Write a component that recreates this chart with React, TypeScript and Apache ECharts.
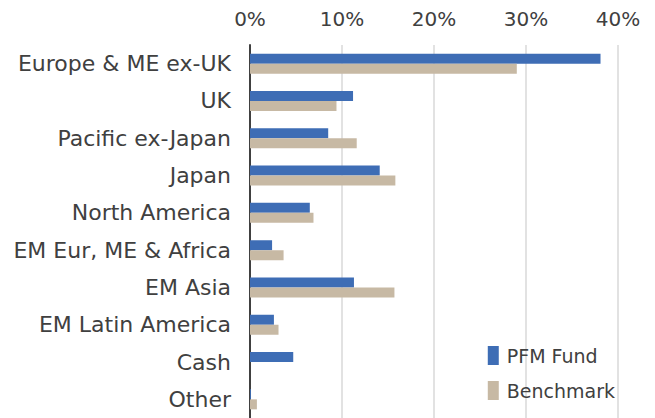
import React, { useEffect, useRef } from "react";
import * as echarts from "echarts";

const categories = [
  "Europe & ME ex-UK",
  "UK",
  "Pacific ex-Japan",
  "Japan",
  "North America",
  "EM Eur, ME & Africa",
  "EM Asia",
  "EM Latin America",
  "Cash",
  "Other",
];
const pfmFund = [38.1, 11.2, 8.5, 14.1, 6.5, 2.4, 11.3, 2.6, 4.7, 0.1];
const benchmark = [29.0, 9.4, 11.6, 15.8, 6.9, 3.65, 15.7, 3.1, 0, 0.75];
const seriesNames = ["PFM Fund", "Benchmark"];

const FONT = "'DejaVu Sans', Verdana, sans-serif";
const TEXT = "#404040";

export default function App() {
  const ref = useRef<HTMLDivElement>(null);
  useEffect(() => {
    if (!ref.current) return;
    const chart = echarts.init(ref.current, undefined, { renderer: "svg" });
    chart.setOption({
      animation: false,
      textStyle: { fontFamily: FONT },
      grid: { left: 250, right: 37, top: 45, height: 375, containLabel: false },
      legend: {
        orient: "vertical",
        right: 35,
        top: 341,
        itemWidth: 11,
        itemHeight: 19,
        itemGap: 16,
        icon: "rect",
        data: seriesNames,
        textStyle: { fontFamily: FONT, fontSize: 19, color: TEXT, padding: [0, 0, 0, 3] },
      },
      xAxis: {
        type: "value",
        position: "top",
        min: 0,
        max: 40,
        interval: 10,
        axisLine: { show: false },
        axisTick: { show: false },
        axisLabel: {
          formatter: "{value}%",
          fontFamily: FONT,
          fontSize: 20,
          color: TEXT,
          margin: 16,
        },
        splitLine: { lineStyle: { color: "#d9d9d9", width: 1.5 } },
      },
      yAxis: {
        type: "category",
        inverse: true,
        data: categories,
        axisLine: { show: true, lineStyle: { color: "#404040", width: 2 } },
        axisTick: { show: false },
        axisLabel: {
          fontFamily: FONT,
          fontSize: 22,
          color: TEXT,
          margin: 19,
        },
      },
      series: [
        {
          name: seriesNames[0],
          type: "bar",
          data: pfmFund,
          barWidth: 10,
          barGap: "0%",
          itemStyle: { color: "#3E6DB5" },
        },
        {
          name: seriesNames[1],
          type: "bar",
          data: benchmark,
          barWidth: 10,
          barGap: "0%",
          itemStyle: { color: "#C7B9A4" },
        },
      ],
    });
    return () => chart.dispose();
  }, []);
  return (
    <div
      ref={ref}
      style={{ position: "absolute", left: 0, top: 0, width: 655, height: 418 }}
    />
  );
}
